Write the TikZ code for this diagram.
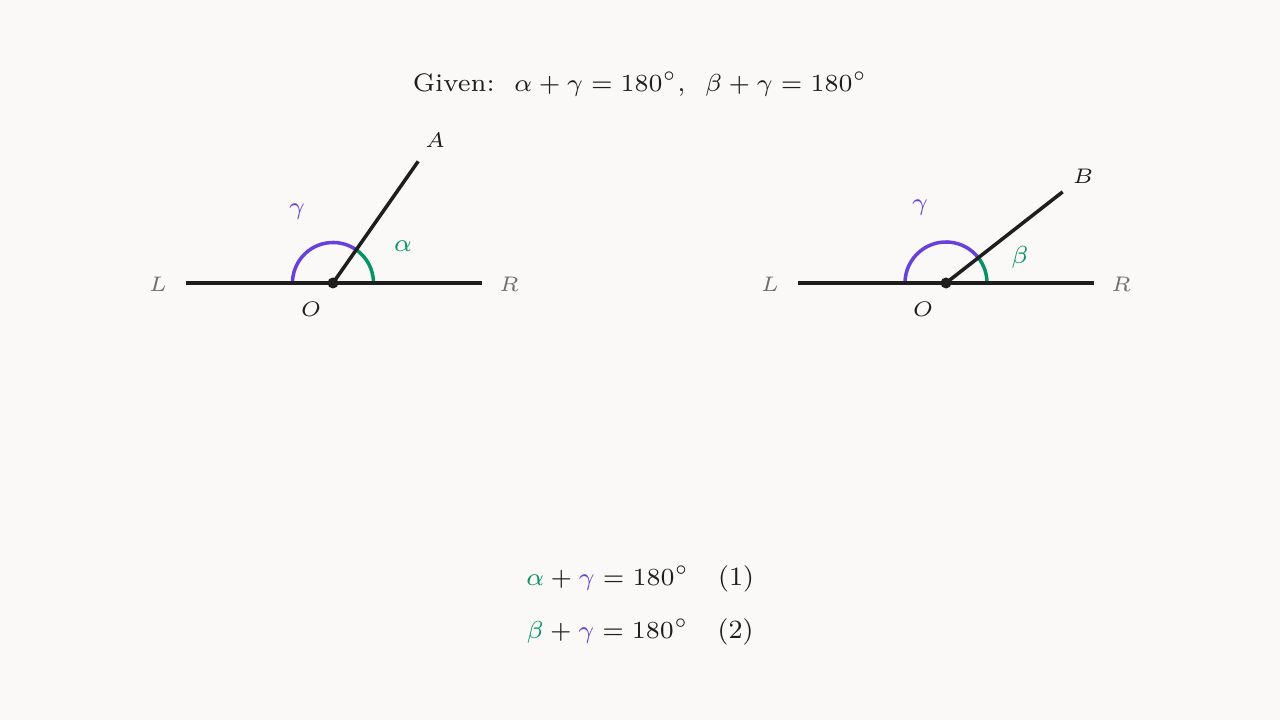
\documentclass[tikz,border=0pt]{standalone}
\usepackage{amssymb}
\usepackage{tikz}
\usetikzlibrary{calc, positioning}
\usepackage{xcolor}

\definecolor{paper}{HTML}{FAF9F7}
\definecolor{ink}{HTML}{1E1E1E}
\definecolor{gammacol}{HTML}{6741D9}
\definecolor{alphacol}{HTML}{099268}
\definecolor{endgray}{HTML}{707070}

\begin{document}
\begin{tikzpicture}[
		ray/.style={ink, line width=1pt},
		gammaarc/.style={gammacol, line width=1pt},
		alphaarc/.style={alphacol, line width=1pt},
		pt/.style={font=\fontsize{6.5}{7}\selectfont, text=ink},
		endpt/.style={font=\fontsize{6.3}{7}\selectfont, text=endgray},
		anglab/.style={font=\fontsize{7}{8}\selectfont},
		eqn/.style={font=\fontsize{7.5}{9}\selectfont, text=ink},
		titletext/.style={font=\fontsize{7.2}{9}\selectfont, text=ink}
	]
		\fill[paper] (0,0) rectangle (12.8,7.2);
		\useasboundingbox (0,0) rectangle (12.8,7.2);
		
		% title
		\node[titletext] (given) at (6.40,6.36){Given:\ \ $\alpha+\gamma=180^\circ$,\ \ $\beta+\gamma=180^\circ$};
		
		% left figure, angle 55
		\coordinate (O1) at (3.33,4.37);
		\coordinate (L1) at (1.86,4.37);
		\coordinate (R1) at (4.82,4.37);
		\coordinate (A) at ($(O1)+(55:1.485)$);
		\draw[alphaarc] ($(O1)+(0.405,0)$) arc (0:55:0.405);
		\draw[gammaarc] ($(O1)+(55:0.405)$) arc (55:180:0.405);
		\draw[ray] (L1) -- (R1);
		\draw[ray] (O1) -- (A);
		\fill[ink] (O1) circle (0.055);
		\node[endpt] (l1lab) at (1.58,4.36){$L$};
		\node[endpt] (r1lab) at (5.09,4.36){$R$};
		\node[pt] (o1lab) at (3.11,4.11){$O$};
		\node[pt] (alab) at (4.35,5.80){$A$};
		\node[anglab, gammacol] (g1lab) at (2.97,5.08){$\gamma$};
		\node[anglab, alphacol] (alphalab) at (4.03,4.74){$\alpha$};
		
		% right figure, angle 38
		\coordinate (O2) at (9.46,4.37);
		\coordinate (L2) at (7.98,4.37);
		\coordinate (R2) at (10.94,4.37);
		\coordinate (B) at ($(O2)+(38:1.48)$);
		\draw[alphaarc] ($(O2)+(0.41,0)$) arc (0:38:0.41);
		\draw[gammaarc] ($(O2)+(38:0.41)$) arc (38:180:0.41);
		\draw[ray] (L2) -- (R2);
		\draw[ray] (O2) -- (B);
		\fill[ink] (O2) circle (0.055);
		\node[endpt] (l2lab) at (7.70,4.36){$L$};
		\node[endpt] (r2lab) at (11.21,4.36){$R$};
		\node[pt] (o2lab) at (9.23,4.11){$O$};
		\node[pt] (blab) at (10.83,5.44){$B$};
		\node[anglab, gammacol] (g2lab) at (9.20,5.12){$\gamma$};
		\node[anglab, alphacol] (betalab) at (10.20,4.63){$\beta$};
		
		% equations
		\node[eqn] (eqone) at (6.40,1.41){$\textcolor{alphacol}{\alpha}+\textcolor{gammacol}{\gamma}=180^\circ$\hspace{1.1em}(1)};
		\node[eqn] (eqtwo) at (6.40,0.88){$\textcolor{alphacol}{\beta}+\textcolor{gammacol}{\gamma}=180^\circ$\hspace{1.1em}(2)};
	\end{tikzpicture}
\end{document}
